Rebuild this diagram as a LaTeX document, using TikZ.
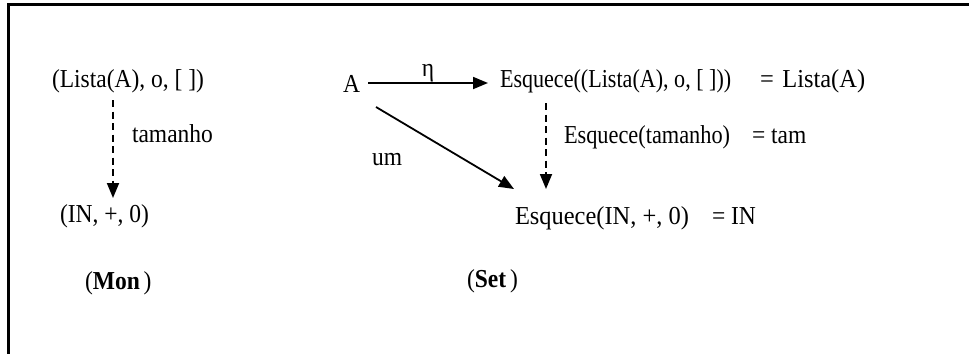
\documentclass[tikz,border=0pt]{standalone}
\usepackage{fontspec}
\usepackage{graphicx}
\setmainfont{Liberation Serif}
\usetikzlibrary{arrows.meta}
\newcommand\tallt[1]{\scalebox{1}[1.1]{#1}}
\begin{document}
\begin{tikzpicture}[x=1pt,y=-1pt,
  lbl/.style={anchor=base west,inner sep=0pt,outer sep=0pt,font=\fontsize{23.5}{28}\selectfont},
  arr/.style={line width=1.8pt,-{Triangle[length=15pt,width=12pt]}},
  darr/.style={arr,dash pattern=on 7pt off 4.5pt}]
\useasboundingbox (0,0) rectangle (969,354);
\draw[line width=2.6pt] (969,4.3) -- (8.3,4.3) -- (8.3,354);
% left: Mon
\node[lbl] (L1) at (52,87) {\tallt{(Lista(A), o, [ ])}};
\node[lbl] (tam) at (132,142) {\tallt{tamanho}};
\node[lbl] (N1) at (60,222) {\tallt{(IN, +, 0)}};
\node[lbl] (mon) at (85,289) {\tallt{(\textbf{Mon}\,)}};
\coordinate (d1s) at (113,100);
\coordinate (d1e) at (113,198);
\draw[darr] (d1s) -- (d1e);
% right: Set
\node[lbl] (A) at (343,92) {\tallt{A}};
\node[lbl] (E1) at (500,87) {\scalebox{0.94}[1.1]{Esquece((Lista(A), o, [ ]))}};
\node[lbl] (eq1) at (760,87) {\scalebox{1.04}[1.1]{=\hspace{0.35em}Lista(A)}};
\node[lbl,anchor=base] (eta) at (428,76) {\tallt{η}};
\node[lbl] (Et) at (564,143) {\scalebox{0.95}[1.1]{Esquece(tamanho)}};
\node[lbl] (eq2) at (752,143) {\tallt{= tam}};
\node[lbl] (um) at (372,165) {\tallt{um}};
\node[lbl] (E2) at (515,224) {\scalebox{1.04}[1.1]{Esquece(IN, +, 0)}};
\node[lbl] (eq3) at (712,224) {\tallt{= IN}};
\node[lbl] (set) at (467,287) {\tallt{(\textbf{Set}\,)}};
\coordinate (as) at (368,83);
\coordinate (ae) at (488,83);
\draw[arr] (as) -- (ae);
\coordinate (ds) at (376,107);
\coordinate (de) at (514,189);
\draw[arr] (ds) -- (de);
\coordinate (d2s) at (546,103);
\coordinate (d2e) at (546,189);
\draw[darr] (d2s) -- (d2e);
\end{tikzpicture}
\end{document}
